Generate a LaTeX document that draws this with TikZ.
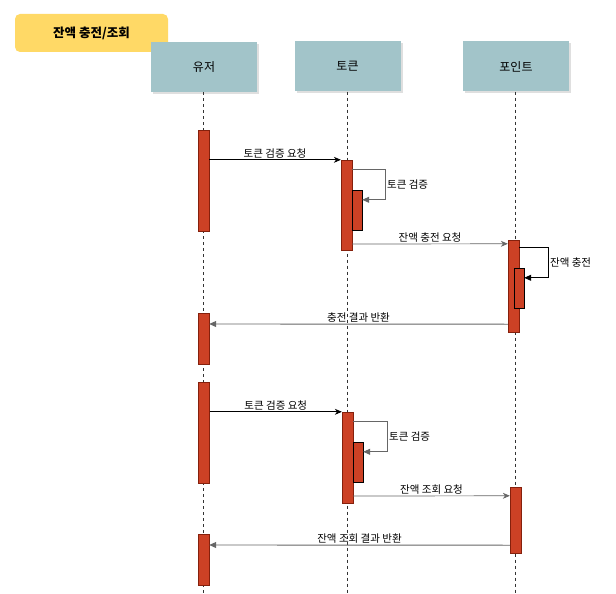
\documentclass[tikz,border=0pt]{standalone}
\usepackage{fontspec}
\setmainfont{Noto Sans CJK KR}
\usetikzlibrary{arrows.meta,shadows}
\definecolor{headblue}{HTML}{A2C4C9}
\definecolor{titleyellow}{HTML}{FFD966}
\definecolor{barred}{HTML}{CC4125}
\definecolor{barline}{HTML}{85200C}
\tikzset{
  head/.style={fill=headblue, minimum width=106pt, minimum height=50pt, inner sep=0pt,
    font=\fontsize{12}{14}\selectfont,
    drop shadow={shadow xshift=2pt, shadow yshift=-2pt, fill=black!25}},
  life/.style={dashed, black!80, line width=0.6pt},
  bar/.style={draw=barline, fill=barred, minimum width=11pt, inner sep=0pt},
  subbar/.style={draw=black, fill=barred, minimum width=10pt, inner sep=0pt},
  msg/.style={-{Stealth[length=7pt,width=6pt]}, line width=0.7pt},
  ret/.style={-{Triangle[length=7pt,width=6pt]}, black!60, line width=0.9pt},
  selfmsg/.style={-{Triangle[length=7pt,width=6pt]}, black!60, line width=0.9pt},
  lbl/.style={font=\fontsize{10.5}{12}\selectfont, text=black, inner sep=1.5pt}
}
\begin{document}
\begin{tikzpicture}[x=1pt,y=-1pt]
\useasboundingbox (0,0) rectangle (616,594);
\coordinate (bottom) at (0,594);

\node[fill=titleyellow, rounded corners=5pt, minimum width=153pt, minimum height=38pt,
  font=\bfseries\fontsize{12.5}{14}\selectfont] (ttl) at (91.5,33) {잔액 충전/조회};

\node[head] (user) at (204,67) {유저};
\node[head] (token) at (347.5,66.5) {토큰};
\node[head] (point) at (516,66.5) {포인트};

\draw[life] (user.south -| 203,0) -- (203,594 |- bottom);
\draw[life] (token.south -| 347,0) -- (347,594 |- bottom);
\draw[life] (point.south -| 515,0) -- (515,594 |- bottom);

\node[bar, minimum height=101pt] (u1) at (203.5,180.5) {};
\node[bar, minimum height=51pt] (u2) at (203.5,338.5) {};
\node[bar, minimum height=101pt] (u3) at (204,432.5) {};
\node[bar, minimum height=51pt] (u4) at (203.5,559.5) {};
\node[bar, minimum height=90pt] (t1) at (346.5,205) {};
\node[subbar, minimum height=40pt] (ts1) at (357,210) {};
\node[bar, minimum height=91pt] (t2) at (347.5,457.5) {};
\node[subbar, minimum height=40pt] (ts2) at (358,462) {};
\node[bar, minimum height=92pt] (p1) at (513.5,286) {};
\node[subbar, minimum height=40pt] (ps1) at (519,288) {};
\node[bar, minimum height=66pt] (p2) at (515.5,520) {};

\draw[msg] (u1.east |- t1.north) -- node[lbl, above]{토큰 검증 요청} (t1.north west);
\draw[selfmsg] ([yshift=-10pt]t1.north east) -- ++(33,0)
  |- node[lbl, right, pos=0.25]{토큰 검증} ([yshift=-10pt]ts1.north east);
\draw[msg, black!60] (t1.east |- 0,244) -- node[lbl, above]{잔액 충전 요청} ([yshift=-4pt]p1.north west);
\draw[selfmsg, black] ([yshift=-8pt]p1.north east) -- ++(29,0)
  |- node[lbl, right, pos=0.25]{잔액 충전} ([yshift=-10pt]ps1.north east);
\draw[ret] ([yshift=8pt]p1.south west) -- node[lbl, above]{충전 결과 반환} (u2.east |- 0,324);

\draw[msg] (u3.east |- t2.north) -- node[lbl, above]{토큰 검증 요청} (t2.north west);
\draw[selfmsg] ([yshift=-10pt]t2.north east) -- ++(34,0)
  |- node[lbl, right, pos=0.25]{토큰 검증} ([yshift=-10pt]ts2.north east);
\draw[msg, black!60] (t2.east |- 0,496) -- node[lbl, above]{잔액 조회 요청} ([yshift=-9pt]p2.north west);
\draw[ret] ([yshift=8pt]p2.south west) -- node[lbl, above]{잔액 조회 결과 반환} (u4.east |- 0,545);
\end{tikzpicture}
\end{document}
